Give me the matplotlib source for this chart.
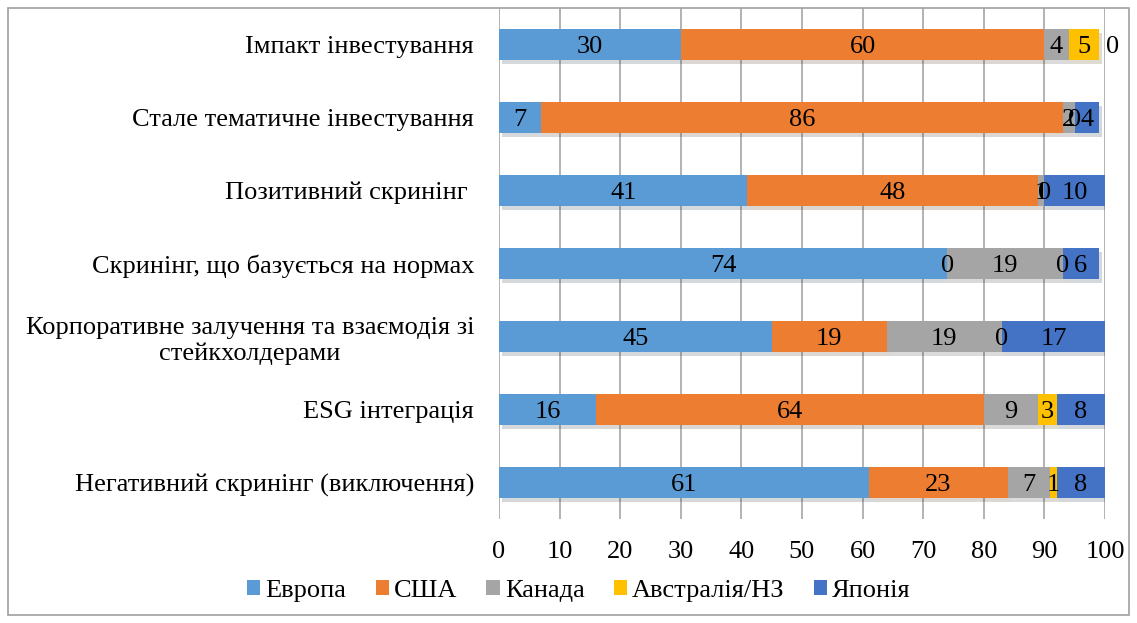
import numpy as np
import matplotlib.pyplot as plt
from matplotlib.patches import Rectangle
import matplotlib.patheffects as pe

plt.rcParams['font.family'] = ['Liberation Serif', 'DejaVu Serif']

# categories, top to bottom as in the chart
categories = [
    "Імпакт інвестування",
    "Стале тематичне інвестування",
    "Позитивний скринінг ",
    "Скринінг, що базується на нормах",
    "Корпоративне залучення та взаємодія зі\nстейкхолдерами",
    "ESG інтеграція",
    "Негативний скринінг (виключення)",
]

europe = [30, 7, 41, 74, 45, 16, 61]
usa = [60, 86, 48, 0, 19, 64, 23]
canada = [4, 2, 1, 19, 19, 9, 7]
australia = [5, 0, 0, 0, 0, 3, 1]
japan = [0, 4, 10, 6, 17, 8, 8]

series_names = ["Европа", "США", "Канада", "Австралія/НЗ", "Японія"]
series_colors = ["#5B9BD5", "#ED7D31", "#A5A5A5", "#FFC000", "#4472C4"]
all_series = [europe, usa, canada, australia, japan]

fig = plt.figure(figsize=(11.37, 6.23), dpi=100)
ax = fig.add_axes([499 / 1137, 1 - 519 / 623, (1105 - 499) / 1137, (519 - 8) / 623])

y = np.arange(len(categories))
left = np.zeros(len(categories))
shadow = [pe.SimplePatchShadow(offset=(2, -3), alpha=0.18), pe.Normal()]

for name, vals, col in zip(series_names, all_series, series_colors):
    vals = np.array(vals, dtype=float)
    bars = ax.barh(y, vals, left=left, height=0.42, color=col, label=name,
                   zorder=3)
    for b in bars:
        b.set_path_effects(shadow)
    for i, v in enumerate(vals):
        xc = left[i] + v / 2
        # zero segment at the very end of a short row goes outside the bar
        if v == 0 and name == series_names[-1] and left[i] < 100:
            xc = left[i] + 2.3
        ax.text(xc, y[i] + 0.03, f"{int(v)}", ha="center", va="center",
                fontsize=19, color="black", zorder=5)
    left += vals

ax.set_xlim(0, 100)
ax.set_ylim(len(categories) - 0.5, -0.5)
ax.set_xticks(range(0, 101, 10))
ax.set_yticks(y)
ax.set_yticklabels(categories, fontsize=19, ha="right", multialignment="center")
ax.tick_params(axis="y", length=0, pad=18)
ax.tick_params(axis="x", length=0, labelsize=19, pad=16)
ax.grid(axis="x", color="#A6A6A6", linewidth=1.2, zorder=0)
for s in ax.spines.values():
    s.set_visible(False)

leg = fig.legend(loc="center", bbox_to_anchor=(579 / 1137, 1 - 591 / 623), ncol=5,
                 frameon=False, fontsize=19, handlelength=0.5, handleheight=0.5,
                 handletextpad=0.2, columnspacing=1.1)
for h in leg.legend_handles:
    h.set_path_effects([])

fig.patches.append(Rectangle((8 / 1137, 8 / 623), 1 - 16 / 1137, 1 - 16 / 623,
                             transform=fig.transFigure, fill=False,
                             edgecolor="#A0A0A0", linewidth=1.2))

fig.savefig("out.png", dpi=100)
